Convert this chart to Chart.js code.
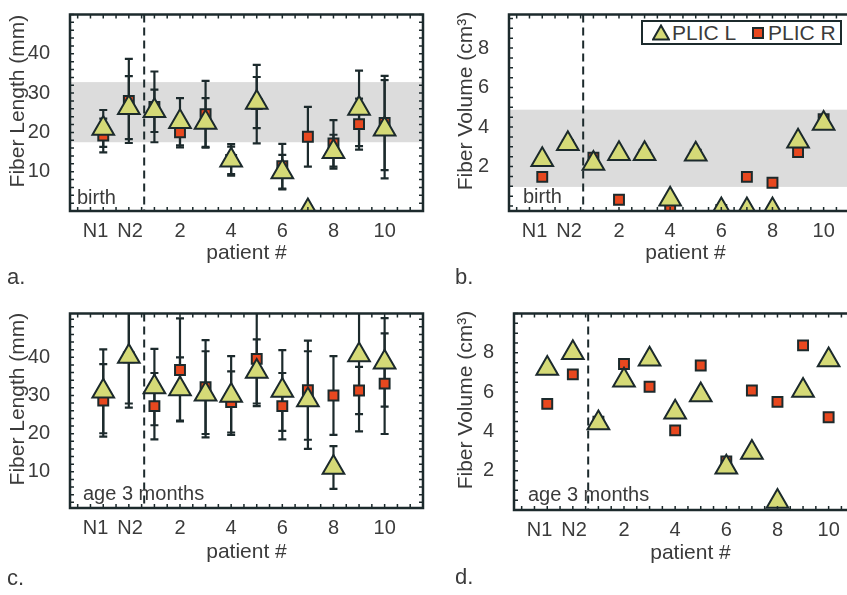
<!DOCTYPE html>
<html>
<head>
<meta charset="utf-8">
<script src="https://cdn.jsdelivr.net/npm/chart.js@4.4.1/dist/chart.umd.min.js"></script>
<style>
  body { margin: 0; width: 847px; height: 595px; overflow: hidden; position: relative; background: #fff; font-family: "Liberation Sans", Arial, sans-serif; color: #3b3b3b; }
  canvas { position: absolute; }
  .note { position: absolute; font-size: 20px; line-height: 20px; white-space: nowrap; }
  .letter { position: absolute; font-size: 22px; line-height: 22px; }
  .legend { position: absolute; left: 641px; top: 20px; width: 197px; height: 21px; border: 2px solid #1c2a2c; background: #fff; font-size: 21px; line-height: 21px; white-space: nowrap; }
  .legend svg { position: absolute; top: 2px; }
  .legend span { position: absolute; top: 0; }
</style>
</head>
<body>
<canvas id="ca" width="440" height="268" style="left:0;top:0"></canvas>
<canvas id="cb" width="440" height="268" style="left:448px;top:0"></canvas>
<canvas id="cc" width="440" height="266" style="left:0;top:299px"></canvas>
<canvas id="cd" width="440" height="268" style="left:448px;top:299px"></canvas>

<div class="note" style="left:77px;top:187px">birth</div>
<div class="note" style="left:523px;top:186px">birth</div>
<div class="note" style="left:83px;top:483px">age 3 months</div>
<div class="note" style="left:528px;top:484px">age 3 months</div>

<div class="letter" style="left:7px;top:266px">a.</div>
<div class="letter" style="left:455px;top:266px">b.</div>
<div class="letter" style="left:7px;top:567px">c.</div>
<div class="letter" style="left:455px;top:566px">d.</div>

<div class="legend">
  <svg width="18" height="17" style="left:9px"><polygon points="9,1.5 17,15.5 1,15.5" fill="#d5da77" stroke="#1c2a2c" stroke-width="2"/></svg>
  <span style="left:29px">PLIC L</span>
  <svg width="12" height="12" style="left:109px;top:5px"><rect x="1" y="1" width="10" height="10" fill="#e8481f" stroke="#1c2a2c" stroke-width="2"/></svg>
  <span style="left:125px">PLIC R</span>
</div>

<script>
const patients = ["N1", "N2", "1", "2", "3", "4", "5", "6", "7", "8", "9", "10"];
const patientX = [-1, 0, 1, 2, 3, 4, 5, 6, 7, 8, 9, 10];
const xTickValues = [-1.3, 0.05, 2, 4, 6, 8, 10];
const xTickLabels = ["N1", "N2", "2", "4", "6", "8", "10"];

// a. fiber length at birth (mean and +/- error)
const lenBirthL = [21, 26.3, 25.5, 22.7, 22.5, 12.9, 27.6, 9.9, 0, 15.1, 26.1, 20.8];
const lenBirthLErr = [4.7, 8, 5.4, 6, 6.2, 3.5, 6.5, 4.4, 0, 4.3, 9.6, 12.5];
const lenBirthR = [19.2, 28, 26.5, 20, 24.6, 13, 27.2, 11.4, 18.9, 17.2, 22.1, 22.4];
const lenBirthRErr = [4.3, 10.7, 9, 3.8, 8.5, 4, 10, 5.7, 7.6, 5.9, 6.5, 12];

// b. fiber volume at birth
const volBirthL = [2.35, 3.15, 2.15, 2.65, 2.65, 0.35, 2.62, -0.2, -0.2, -0.2, 3.28, 4.18];
const volBirthR = [1.48, 3.1, 2.45, 0.32, 2.6, -0.15, 2.6, -0.2, 1.48, 1.18, 2.73, 4.4];

// c. fiber length at age 3 months
const len3mL = [31.1, 40.2, 32.2, 31.7, 30.3, 30, 36.3, 31.3, 28.8, 11.1, 40.6, 38.7];
const len3mLErr = [11, 12.3, 10, 8.3, 11.3, 10.3, 8.4, 10.6, 12.8, 5.6, 20, 11.6];
const len3mR = [28.7, 40, 27.2, 36.7, 32.2, 28.3, 39.6, 27.2, 31.4, 30, 31.3, 33.1];
const len3mRErr = [9.5, 13.2, 8.7, 13.5, 12.3, 8, 12.4, 8.7, 13, 10.3, 6.2, 13.2];

// d. fiber volume at age 3 months
const vol3mL = [7.2, 8.0, 4.43, 6.6, 7.67, 4.97, 5.85, 2.17, 2.93, 0.43, 6.08, 7.63];
const vol3mR = [5.4, 6.9, 4.5, 7.43, 6.27, 4.05, 7.35, 2.47, 6.08, 5.5, 8.38, 4.72];

// normal range bands
const lenNormal = [17.5, 32.8];
const volNormal = [0.97, 4.88];

const ink = "#1c2a2c";
const textCol = "#3b3b3b";
const fam = "'Liberation Sans', Arial, sans-serif";

function points(values) {
  return values.map((v, i) => ({ x: patientX[i], y: v }));
}

// band, dashed separator, error bars, frame with inward ticks
const decor = {
  id: "decor",
  beforeDatasetsDraw(chart, args, opts) {
    const { ctx, chartArea: a, scales: { x, y } } = chart;
    ctx.save();
    if (opts.band) {
      const y1 = y.getPixelForValue(opts.band[1]);
      const y0 = y.getPixelForValue(opts.band[0]);
      ctx.fillStyle = "#dcdcdc";
      ctx.fillRect(a.left, y1, a.right - a.left, y0 - y1);
    }
    ctx.strokeStyle = ink;
    ctx.lineWidth = 2;
    ctx.setLineDash([8, 5]);
    const dx = x.getPixelForValue(opts.dashX);
    ctx.beginPath();
    ctx.moveTo(dx, a.top);
    ctx.lineTo(dx, a.bottom);
    ctx.stroke();
    ctx.setLineDash([]);

    // error bars
    ctx.lineWidth = 2.2;
    ctx.beginPath();
    ctx.rect(a.left, a.top, a.right - a.left, a.bottom - a.top);
    ctx.clip();
    chart.data.datasets.forEach((ds) => {
      if (!ds.err) return;
      ds.data.forEach((p, i) => {
        const e = ds.err[i];
        if (!e) return;
        const px = x.getPixelForValue(p.x);
        const hi = y.getPixelForValue(p.y + e);
        const lo = y.getPixelForValue(p.y - e);
        ctx.beginPath();
        ctx.moveTo(px, hi);
        ctx.lineTo(px, lo);
        ctx.moveTo(px - 4, hi);
        ctx.lineTo(px + 4, hi);
        ctx.moveTo(px - 4, lo);
        ctx.lineTo(px + 4, lo);
        ctx.stroke();
      });
    });
    ctx.restore();
  },
  afterDatasetsDraw(chart, args, opts) {
    const { ctx, chartArea: a, scales: { x, y } } = chart;
    ctx.save();
    ctx.strokeStyle = ink;
    ctx.lineWidth = 1.5;
    ctx.beginPath();
    for (let v = Math.ceil(y.min / opts.yMinor) * opts.yMinor; v <= y.max; v += opts.yMinor) {
      const py = y.getPixelForValue(v);
      ctx.moveTo(a.left, py);
      ctx.lineTo(a.left + 4, py);
      ctx.moveTo(a.right, py);
      ctx.lineTo(a.right - 4, py);
    }
    for (let v = Math.ceil(x.min / opts.xMinor) * opts.xMinor; v <= x.max; v += opts.xMinor) {
      const px = x.getPixelForValue(v);
      ctx.moveTo(px, a.top);
      ctx.lineTo(px, a.top + 4);
      ctx.moveTo(px, a.bottom);
      ctx.lineTo(px, a.bottom - 4);
    }
    ctx.stroke();
    ctx.lineWidth = 2.5;
    ctx.strokeRect(a.left, a.top, a.right - a.left, a.bottom - a.top);
    ctx.restore();
  }
};

function makePanel(id, cfg) {
  const datasets = [
    {
      label: "PLIC L",
      data: points(cfg.left),
      err: cfg.leftErr,
      pointStyle: "triangle",
      pointRadius: 12.5,
      backgroundColor: "#d5da77",
      borderColor: ink,
      borderWidth: 2,
      clip: 0
    },
    {
      label: "PLIC R",
      data: points(cfg.right),
      err: cfg.rightErr,
      pointStyle: "rect",
      pointRadius: 7,
      backgroundColor: "#e8481f",
      borderColor: ink,
      borderWidth: 2,
      clip: 0
    }
  ];
  return new Chart(document.getElementById(id), {
    type: "scatter",
    data: { datasets: datasets },
    plugins: [decor],
    options: {
      responsive: false,
      animation: false,
      events: [],
      layout: { padding: { top: 12, right: cfg.padRight, left: 0, bottom: 0 } },
      plugins: {
        legend: { display: false },
        tooltip: { enabled: false },
        decor: { band: cfg.band, dashX: 0.6, xMinor: 0.5, yMinor: cfg.yMinor }
      },
      scales: {
        x: {
          type: "linear",
          min: -2.3,
          max: 11.5,
          grid: { display: false },
          border: { display: false },
          afterBuildTicks: (s) => {
            s.ticks = xTickValues.map((v) => ({ value: v }));
          },
          afterFit: (s) => {
            s.height = 57;
            s.paddingLeft = 0;
            s.paddingRight = 0;
          },
          ticks: {
            autoSkip: false,
            maxRotation: 0,
            padding: 0,
            color: textCol,
            font: { family: fam, size: 20 },
            callback: (v, i) => xTickLabels[i]
          },
          title: {
            display: true,
            text: "patient #",
            color: textCol,
            font: { family: fam, size: 21 },
            padding: { top: 0, bottom: cfg.titleBottom }
          }
        },
        y: {
          min: cfg.yMin,
          max: cfg.yMax,
          grid: { display: false },
          border: { display: false },
          afterFit: (s) => {
            s.width = cfg.yWidth;
            s.paddingTop = 0;
            s.paddingBottom = 0;
          },
          ticks: {
            stepSize: cfg.yStep,
            padding: 12,
            color: textCol,
            font: { family: fam, size: 20 },
            callback: (v) => (cfg.yLabels.includes(v) ? v : "")
          },
          title: {
            display: true,
            text: "    " + cfg.yTitle,
            color: textCol,
            font: { family: fam, size: 21 },
            padding: { top: 6, bottom: 0 }
          }
        }
      }
    }
  });
}

makePanel("ca", {
  left: lenBirthL, leftErr: lenBirthLErr, right: lenBirthR, rightErr: lenBirthRErr,
  band: lenNormal, yMin: 0, yMax: 50, yStep: 10, yMinor: 2, yLabels: [10, 20, 30, 40],
  yTitle: "Fiber Length (mm)", yWidth: 70, padRight: 17, titleBottom: 2
});
makePanel("cb", {
  left: volBirthL, right: volBirthR,
  band: volNormal, yMin: -0.25, yMax: 9.7, yStep: 2, yMinor: 0.5, yLabels: [2, 4, 6, 8],
  yTitle: "Fiber Volume (cm³)", yWidth: 61, padRight: 26, titleBottom: 2
});
makePanel("cc", {
  left: len3mL, leftErr: len3mLErr, right: len3mR, rightErr: len3mRErr,
  yMin: 0.5, yMax: 51.5, yStep: 10, yMinor: 2, yLabels: [10, 20, 30, 40],
  yTitle: "Fiber Length (mm)", yWidth: 70, padRight: 17, titleBottom: 0
});
makePanel("cd", {
  left: vol3mL, right: vol3mR,
  yMin: 0, yMax: 10, yStep: 2, yMinor: 0.5, yLabels: [2, 4, 6, 8],
  yTitle: "Fiber Volume (cm³)", yWidth: 66, padRight: 21, titleBottom: 1
});
</script>
</body>
</html>
